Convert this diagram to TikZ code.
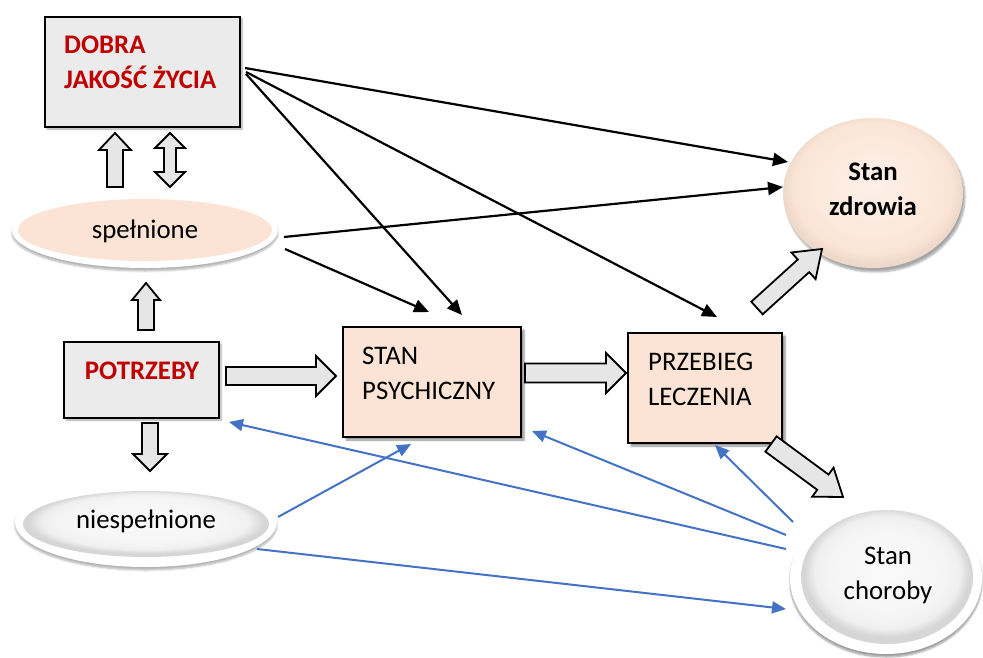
\documentclass[tikz,border=0pt]{standalone}
\usepackage{fontspec}
\setmainfont{Carlito}
\usetikzlibrary{calc,arrows.meta,shapes.geometric,shadows.blur}
\definecolor{darkred}{HTML}{C00000}
\definecolor{boxgray}{HTML}{EBEBEB}
\definecolor{peach}{HTML}{FBE4D5}
\definecolor{arrgray}{HTML}{E6E6E6}
\definecolor{linkblue}{HTML}{4472C4}

\pgfdeclareradialshading{grayoval}{\pgfpoint{0bp}{3bp}}{%
  color(0bp)=(white!98!black); color(17bp)=(white!96!black); color(21bp)=(white!94!black);
  color(24bp)=(white!84!black); color(50bp)=(white!84!black)}
\pgfdeclareradialshading{peachoval}{\pgfpoint{0bp}{3bp}}{%
  color(0bp)=(peach!55!white); color(17bp)=(peach!85!white); color(22bp)=(peach);
  color(25bp)=(peach!95!black); color(50bp)=(peach!95!black)}

\tikzset{
  box/.style={draw=black, line width=1.8pt, inner sep=0pt},
  graybox/.style={box, fill=boxgray, blur shadow={shadow xshift=2pt, shadow yshift=-2pt, shadow blur steps=6, shadow opacity=35}},
  peachbox/.style={box, line width=1.5pt, fill=peach, blur shadow={shadow xshift=3pt, shadow yshift=-3pt, shadow blur steps=6, shadow opacity=45}},
  txt/.style={inner sep=0pt, font=\fontsize{26.8}{35}\selectfont},
  redtxt/.style={txt, font=\fontsize{26.8}{35}\selectfont\bfseries, text=darkred},
  blockarrow/.style={draw=black, line width=1.8pt, fill=arrgray, line join=miter},
  blackarrow/.style={draw=black, line width=2.2pt, -{Triangle[length=15pt,width=13pt]}},
  bluearrow/.style={draw=linkblue, line width=2pt, -{Triangle[length=14pt,width=12pt]}},
  oval/.style={ellipse, inner sep=0pt},
}

\newcommand{\blockarr}[5]{%
  \path ($(#2)!#5!(#1)$) coordinate (bh);
  \draw[blockarrow] ($(#1)!#3!90:(#2)$) -- ($(bh)!#3!90:(#2)$) -- ($(bh)!#4!90:(#2)$) -- (#2)
    -- ($(bh)!#4!-90:(#2)$) -- ($(bh)!#3!-90:(#2)$) -- ($(#1)!#3!-90:(#2)$) -- cycle;
}
\newcommand{\dblarr}[5]{%
  \path ($(#1)!#5!(#2)$) coordinate (bha) ($(#2)!#5!(#1)$) coordinate (bhb);
  \draw[blockarrow] (#1) -- ($(bha)!#4!90:(#2)$) -- ($(bha)!#3!90:(#2)$) -- ($(bhb)!#3!90:(#2)$)
    -- ($(bhb)!#4!90:(#2)$) -- (#2) -- ($(bhb)!#4!-90:(#2)$) -- ($(bhb)!#3!-90:(#2)$)
    -- ($(bha)!#3!-90:(#2)$) -- ($(bha)!#4!-90:(#2)$) -- cycle;
}

\begin{document}
\begin{tikzpicture}[x=1pt,y=-1pt]
\useasboundingbox (0,0) rectangle (983,658);

% boxes
\node[graybox, minimum width=195pt, minimum height=110pt] (dobra) at (142.5,72) {};
\node[redtxt, anchor=west, align=left] (dobratxt) at (64,62) {DOBRA\\JAKOŚĆ ŻYCIA};

\node[graybox, minimum width=155pt, minimum height=76pt] (potrzeby) at (141.5,380) {};
\node[redtxt] (potrzebytxt) at (142,371) {POTRZEBY};

\node[peachbox, minimum width=178pt, minimum height=110pt] (psych) at (432,382) {};
\node[txt, anchor=west, align=left] (psychtxt) at (362,373) {STAN\\PSYCHICZNY};

\node[peachbox, minimum width=154pt, minimum height=110pt] (leczenie) at (705,388) {};
\node[txt, anchor=west, align=left] (leczenietxt) at (648,379) {PRZEBIEG\\LECZENIA};

% ovals
\node[oval, fill=white, minimum width=266pt, minimum height=76pt,
  blur shadow={shadow xshift=0pt, shadow yshift=-3pt, shadow blur steps=6, shadow opacity=30}] (spelnione) at (145,230) {};
\node[oval, fill=peach, minimum width=254pt, minimum height=62pt] (spelnionein) at (145,230) {};
\node[txt] (spelnionetxt) at (145,231) {spełnione};

\node[oval, fill=white, minimum width=262pt, minimum height=90pt,
  blur shadow={shadow xshift=0pt, shadow yshift=-3pt, shadow blur steps=6, shadow opacity=30}] (niespelnione) at (146,522) {};
\node[oval, shading=grayoval, minimum width=246pt, minimum height=66pt] (niespelnionein) at (146,524) {};
\node[txt] (niespelnionetxt) at (146,521) {niespełnione};

\node[oval, shading=peachoval, minimum width=180pt, minimum height=150pt,
  blur shadow={shadow xshift=2pt, shadow yshift=-4pt, shadow blur steps=6, shadow opacity=35}] (zdrowie) at (873,193) {};
\node[txt, font=\fontsize{26.8}{35}\selectfont\bfseries, align=center] (zdrowietxt) at (873,189) {Stan\\zdrowia};

\node[oval, fill=white, minimum width=192pt, minimum height=152pt,
  blur shadow={shadow xshift=0pt, shadow yshift=-3pt, shadow blur steps=6, shadow opacity=40}] (choroba) at (886,578) {};
\node[oval, shading=grayoval, minimum width=172pt, minimum height=134pt] (chorobain) at (887,577) {};
\node[txt, align=center] (chorobatxt) at (888,575) {Stan\\choroby};

% block arrows
\coordinate (u1s) at (115,187); \coordinate (u1e) at (115,133);
\blockarr{u1s}{u1e}{8pt}{16pt}{17pt}
\coordinate (d1s) at (170,133); \coordinate (d1e) at (170,187);
\dblarr{d1s}{d1e}{6pt}{15pt}{15pt}
\coordinate (u2s) at (146,330); \coordinate (u2e) at (146,283);
\blockarr{u2s}{u2e}{8pt}{14pt}{17pt}
\coordinate (dns) at (150,423); \coordinate (dne) at (150,471);
\blockarr{dns}{dne}{8pt}{17pt}{17pt}
\coordinate (r1s) at (226,376); \coordinate (r1e) at (336,376);
\blockarr{r1s}{r1e}{9pt}{20pt}{20pt}
\coordinate (r2s) at (525,373); \coordinate (r2e) at (626,373);
\blockarr{r2s}{r2e}{9.5pt}{20pt}{20pt}
\coordinate (g1s) at (757,308); \coordinate (g1e) at (822,249);
\blockarr{g1s}{g1e}{8.5pt}{18pt}{25pt}
\coordinate (g2s) at (771,444); \coordinate (g2e) at (843,497);
\blockarr{g2s}{g2e}{9.5pt}{18pt}{25pt}

% black arrows
\coordinate (k1s) at (245,68);  \coordinate (k1e) at (788,162);
\coordinate (k2s) at (246,72);  \coordinate (k2e) at (717,317);
\coordinate (k3s) at (246,74);  \coordinate (k3e) at (462,315);
\coordinate (k4s) at (284,237); \coordinate (k4e) at (783,187);
\coordinate (k5s) at (285,249); \coordinate (k5e) at (429,312);
\draw[blackarrow] (k1s) -- (k1e);
\draw[blackarrow] (k2s) -- (k2e);
\draw[blackarrow] (k3s) -- (k3e);
\draw[blackarrow] (k4s) -- (k4e);
\draw[blackarrow] (k5s) -- (k5e);

% blue arrows
\coordinate (b1s) at (786,549); \coordinate (b1e) at (229,422);
\coordinate (b2s) at (786,535); \coordinate (b2e) at (532,431);
\coordinate (b3s) at (793,522); \coordinate (b3e) at (715,445);
\coordinate (b4s) at (278,517); \coordinate (b4e) at (411,444);
\coordinate (b5s) at (257,549); \coordinate (b5e) at (786,609);
\draw[bluearrow] (b1s) -- (b1e);
\draw[bluearrow] (b2s) -- (b2e);
\draw[bluearrow] (b3s) -- (b3e);
\draw[bluearrow] (b4s) -- (b4e);
\draw[bluearrow] (b5s) -- (b5e);
\end{tikzpicture}
\end{document}
